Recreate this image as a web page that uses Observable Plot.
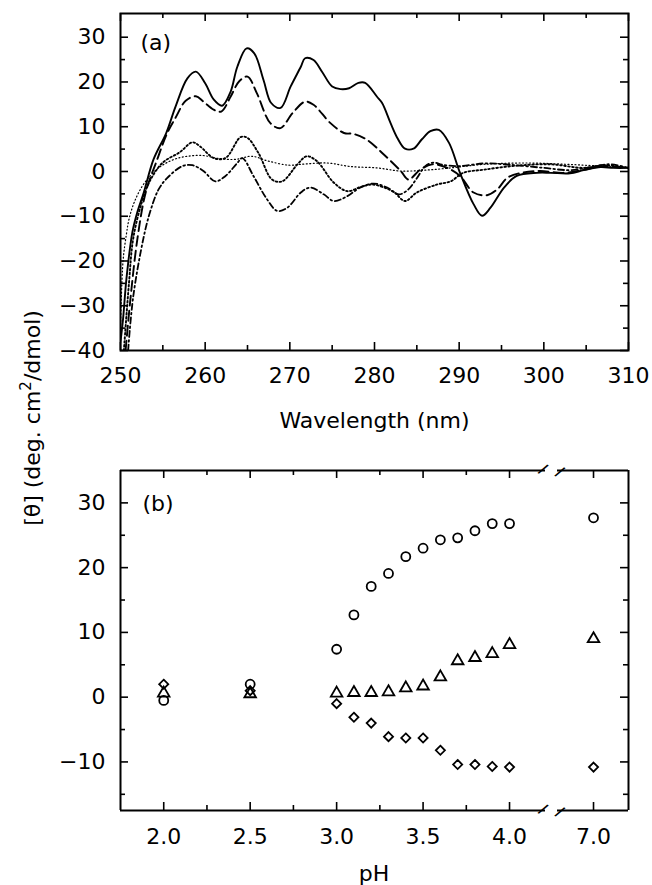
<!DOCTYPE html>
<html><head><meta charset="utf-8">
<script src="https://cdn.jsdelivr.net/npm/d3@7"></script>
<script src="https://cdn.jsdelivr.net/npm/@observablehq/plot@0.6"></script>
<style>
body{margin:0;background:#fff;}
#chart{position:relative;width:652px;height:885px;font-family:"DejaVu Sans",sans-serif;color:#000;}
#ytitle{position:absolute;left:33px;top:418px;transform:translate(-50%,-50%) rotate(-90deg);white-space:nowrap;font-size:22px;line-height:1;}
#ytitle sup{font-size:15px;vertical-align:0.6em;line-height:0;}
</style></head><body>
<div id="chart"><div id="ytitle">[θ] (deg. cm<sup>2</sup>/dmol)</div></div>
<script>
// ---------- Panel (a): CD spectra ----------
const solidWl = [250, 250.3, 250.7, 251.4, 252, 252.75, 253.9, 255.4, 256.5, 257.9, 258.9, 260, 261, 262, 263, 263.8, 264.9, 265.8, 266.9, 267.8, 268.9, 270.1, 271.3, 271.8, 272.8, 273.8, 275, 276, 277, 278.1, 278.9, 280.3, 280.9, 281.9, 282.7, 283.6, 284.6, 285.6, 286.6, 287.6, 288.8, 290.1, 291.7, 292.7, 293.7, 295.3, 296.8, 299.2, 300.8, 303.1, 304.7, 306.7, 308.2, 310];
const solidTheta = [-38, -33, -24, -13.6, -9, -4.7, 2.7, 8.6, 14.5, 20.8, 22.3, 19.7, 16.1, 14.7, 17.8, 23.4, 27.5, 26.4, 20.4, 15.3, 14.2, 19.0, 23.4, 25.3, 24.9, 22.3, 19.0, 18.4, 18.6, 19.8, 19.8, 16.7, 15.3, 10.8, 7.5, 5.1, 5.1, 7.2, 9.0, 9.3, 6.4, -0.3, -7.3, -9.9, -8.1, -3.6, -1.0, -0.3, -0.3, -0.4, 0.3, 1.0, 0.8, 0.8];

const dashedWl = [250.6, 251.2, 252, 253, 254.3, 255.5, 256.5, 257.7, 258.9, 259.8, 261, 261.9, 263, 264, 265, 266.1, 267.7, 268.9, 270.3, 271.8, 272.8, 274.8, 276.4, 277.5, 279.1, 281.1, 283.1, 284, 285.4, 286.8, 288.6, 290.1, 291.7, 293.3, 294.5, 295.7, 297.6, 299.6, 302.3, 304.7, 307.1, 310];
const dashedTheta = [-40, -28, -15, -4.5, 2.5, 8.5, 12, 15.8, 16.8, 15.6, 13.8, 13.4, 16.7, 20.1, 21.2, 17.5, 10.8, 9.7, 13.0, 15.6, 14.9, 10.8, 8.6, 8.4, 7.1, 3.8, 0.1, -1.8, 0.4, 1.6, 0.8, -1.0, -4.7, -5.3, -4.0, -1.4, -0.2, 0.1, -0.3, 0.4, 1.2, 0.8];

const fineWl = [250, 250.3, 250.7, 251, 251.6, 252.5, 253.5, 254.5, 255.5, 256.8, 257.9, 259.6, 261.6, 263.6, 265.5, 267.5, 269.9, 271.3, 274.4, 277.2, 280.3, 283.1, 286, 289, 292.9, 298, 302.7, 306.7, 310];
const fineTheta = [-35, -20, -14, -10.7, -7, -3.5, -1, 0.8, 2.0, 3.0, 3.4, 3.6, 2.9, 2.7, 3.4, 2.3, 1.4, 1.6, 1.9, 1.1, 0.8, 0.1, 0.3, 0.8, 1.6, 1.9, 1.6, 1.2, 0.8];

const dottedWl = [250.4, 251, 251.5, 252.5, 253.5, 255, 257, 258.5, 259.4, 261, 262.4, 264.2, 265, 266.3, 267.9, 269.1, 270.9, 272, 273.2, 275.2, 276.8, 278.3, 279.7, 281, 282.3, 283.6, 285, 287.4, 289, 290.5, 292.9, 296.8, 300.8, 304.7, 307.1, 310];
const dottedTheta = [-40, -25, -15, -7, -2, 2, 4.3, 6.5, 5.6, 3.0, 3.0, 7.7, 7.5, 4.1, -1.8, -2.2, 1.6, 3.4, 2.3, -2.5, -4.4, -3.5, -2.9, -3.5, -4.6, -6.6, -4.7, -2.9, -2.2, -0.3, 0.4, 1.3, 1.6, 0.8, 1.4, 0.8];

const dashDotWl = [250.9, 251.5, 252.7, 253.5, 254.5, 255.5, 257.3, 258.5, 259.8, 261.2, 262.4, 263.8, 264.4, 265.7, 267.3, 268.5, 269.7, 271.3, 272.4, 274, 275.2, 276.8, 278.3, 279.9, 281.5, 282.9, 284, 285, 286, 287, 288, 290, 293, 296, 300, 303, 305, 307, 308, 310];
const dashDotTheta = [-40, -28, -15, -9, -4, -1.5, 1.2, 1.4, 0.1, -2.2, -1.0, 1.9, 3.0, -1.0, -6.2, -8.8, -8.1, -4.7, -3.6, -5.1, -6.6, -5.5, -3.6, -2.7, -3.6, -5.1, -4, -1.5, 1.2, 2.0, 1.5, 1.2, 1.8, 1.5, 0.8, 0.3, 0.8, 1.5, 1.6, 0.8];

const wlMajorTicks = [250, 260, 270, 280, 290, 300, 310];
const wlMinorTicks = [255, 265, 275, 285, 295, 305];
const thetaMajorTicksA = [-40, -30, -20, -10, 0, 10, 20, 30];
const thetaMinorTicksA = [-35, -25, -15, -5, 5, 15, 25];

// ---------- Panel (b): pH dependence ----------
const pH = [2.0, 2.5, 3.0, 3.1, 3.2, 3.3, 3.4, 3.5, 3.6, 3.7, 3.8, 3.9, 4.0, 7.0];
const circleTheta = [-0.5, 2.0, 7.4, 12.7, 17.1, 19.1, 21.7, 23.0, 24.3, 24.6, 25.7, 26.8, 26.8, 27.7];
const triangleTheta = [0.6, 0.5, 0.6, 0.7, 0.7, 0.8, 1.4, 1.7, 3.1, 5.6, 6.1, 6.7, 8.1, 9.0];
const diamondTheta = [2.0, 1.0, -1.0, -3.1, -4.0, -6.1, -6.3, -6.3, -8.2, -10.4, -10.4, -10.7, -10.8, -10.8];

const pHMajorTicksLeft = [2.0, 2.5, 3.0, 3.5, 4.0];
const pHMinorTicksLeft = [2.25, 2.75, 3.25, 3.75];
const pHMajorTicksRight = [7.0];
const thetaMajorTicksB = [-10, 0, 10, 20, 30];
const thetaMinorTicksB = [-15, -5, 5, 15, 25];

// ---------- layout ----------
const FONT = "'DejaVu Sans', sans-serif";
const chart = document.getElementById("chart");
function place(svg, left, top) {
  svg.style.position = "absolute";
  svg.style.left = left + "px";
  svg.style.top = top + "px";
  svg.style.overflow = "visible";
  chart.appendChild(svg);
}
const baseStyle = {fontFamily: FONT, fontSize: "22px", background: "transparent", color: "black", overflow: "visible"};
const T = 8, t = 5, TW = 1.6;

// Panel (a)
const aH = 430, aMT = 13, aMB = 80, aML = 120, aMR = 24, aW = 652;
const aIH = aH - aMT - aMB, aIW = aW - aML - aMR;
const table = (xs, ys) => xs.map((x, i) => ({x, y: ys[i]}));
const lineSpecs = [
  {data: table(solidWl, solidTheta), dash: null, sw: 1.9},
  {data: table(dashedWl, dashedTheta), dash: "10,5", sw: 1.9},
  {data: table(fineWl, fineTheta), dash: "1,2.5", sw: 1.2},
  {data: table(dottedWl, dottedTheta), dash: "1.6,2.4", sw: 1.9},
  {data: table(dashDotWl, dashDotTheta), dash: "6,3,1.6,3", sw: 1.8}
];
const plotA = Plot.plot({
  width: aW, height: aH, marginTop: aMT, marginBottom: aMB, marginLeft: aML, marginRight: aMR,
  x: {domain: [250, 310]},
  y: {domain: [-40, 35.3]},
  style: baseStyle,
  marks: [
    ...lineSpecs.map(s => Plot.line(s.data, {x: "x", y: "y", stroke: "black", strokeWidth: s.sw, strokeDasharray: s.dash, curve: "catmull-rom", clip: true})),
    Plot.tickX(wlMajorTicks, {x: d => d, insetTop: aIH - T, strokeWidth: TW}),
    Plot.tickX(wlMinorTicks, {x: d => d, insetTop: aIH - t, strokeWidth: TW}),
    Plot.tickX(wlMajorTicks, {x: d => d, insetBottom: aIH - T, strokeWidth: TW}),
    Plot.tickX(wlMinorTicks, {x: d => d, insetBottom: aIH - t, strokeWidth: TW}),
    Plot.tickY(thetaMajorTicksA, {y: d => d, insetRight: aIW - T, strokeWidth: TW}),
    Plot.tickY(thetaMinorTicksA, {y: d => d, insetRight: aIW - t, strokeWidth: TW}),
    Plot.tickY(thetaMajorTicksA, {y: d => d, insetLeft: aIW - T, strokeWidth: TW}),
    Plot.tickY(thetaMinorTicksA, {y: d => d, insetLeft: aIW - t, strokeWidth: TW}),
    Plot.frame({strokeWidth: 2}),
    Plot.axisX(wlMajorTicks, {anchor: "bottom", tickSize: 0, tickPadding: 17, label: null}),
    Plot.axisY(thetaMajorTicksA, {anchor: "left", tickSize: 0, tickPadding: 15, label: null}),
    Plot.text(["(a)"], {text: d => d, frameAnchor: "top-left", dx: 20, dy: 29, textAnchor: "start", lineAnchor: "middle"}),
    Plot.text(["Wavelength (nm)"], {text: d => d, frameAnchor: "bottom", dy: 70, lineAnchor: "middle"})
  ]
});
place(plotA, 0, 0);

// Panel (b)
const bTop = 430, bH = 455, bMT = 40, bMB = 75;
const bIH = bH - bMT - bMB;
const yDomB = [-17.5, 35];
const pts = pH.map((p, i) => ({p, c: circleTheta[i], tr: triangleTheta[i], d: diamondTheta[i]}));
const dotMarks = (data) => [
  Plot.dot(data, {x: "p", y: "c", symbol: "circle", r: 4.5, stroke: "black", strokeWidth: 1.8, fill: "none"}),
  Plot.dot(data, {x: "p", y: "tr", symbol: "triangle", r: 4.3, stroke: "black", strokeWidth: 1.8, fill: "none"}),
  Plot.dot(data, {x: "p", y: "d", symbol: "diamond2", r: 4.1, stroke: "black", strokeWidth: 1.8, fill: "none"})
];
const slash = (anchor) => Plot.text(["/"], {text: d => d, frameAnchor: anchor, rotate: 32, fontSize: 15, fontWeight: "bold", lineAnchor: "middle"});

// left part
const bLW = 560, bLML = 120, bLMR = 15;
const bLIW = bLW - bLML - bLMR;
const xDomL = [1.75, 4.208];
const plotBL = Plot.plot({
  width: bLW, height: bH, marginTop: bMT, marginBottom: bMB, marginLeft: bLML, marginRight: bLMR,
  x: {domain: xDomL}, y: {domain: yDomB},
  style: baseStyle,
  marks: [
    ...dotMarks(pts.filter(d => d.p <= xDomL[1])),
    Plot.tickX(pHMajorTicksLeft, {x: d => d, insetTop: bIH - T, strokeWidth: TW}),
    Plot.tickX(pHMinorTicksLeft, {x: d => d, insetTop: bIH - t, strokeWidth: TW}),
    Plot.tickX(pHMajorTicksLeft, {x: d => d, insetBottom: bIH - T, strokeWidth: TW}),
    Plot.tickX(pHMinorTicksLeft, {x: d => d, insetBottom: bIH - t, strokeWidth: TW}),
    Plot.tickY(thetaMajorTicksB, {y: d => d, insetRight: bLIW - T, strokeWidth: TW}),
    Plot.tickY(thetaMinorTicksB, {y: d => d, insetRight: bLIW - t, strokeWidth: TW}),
    Plot.ruleY(yDomB, {strokeWidth: 2}),
    Plot.ruleX([xDomL[0]], {strokeWidth: 2}),
    slash("top-right"), slash("bottom-right"),
    Plot.axisX(pHMajorTicksLeft, {anchor: "bottom", tickSize: 0, tickPadding: 18, tickFormat: d3.format(".1f"), label: null}),
    Plot.axisY(thetaMajorTicksB, {anchor: "left", tickSize: 0, tickPadding: 15, label: null}),
    Plot.text(["(b)"], {text: d => d, frameAnchor: "top-left", dx: 22, dy: 33, textAnchor: "start", lineAnchor: "middle"}),
    Plot.text(["pH"], {text: d => d, frameAnchor: "bottom", dx: 41, dy: 63, lineAnchor: "middle"})
  ]
});
place(plotBL, 0, bTop);

// right part (after the axis break)
const bRW = 112, bRML = 17, bRMR = 24;
const bRIW = bRW - bRML - bRMR;
const xDomR = [6.792, 7.202];
const plotBR = Plot.plot({
  width: bRW, height: bH, marginTop: bMT, marginBottom: bMB, marginLeft: bRML, marginRight: bRMR,
  x: {domain: xDomR}, y: {domain: yDomB, axis: null},
  style: baseStyle,
  marks: [
    ...dotMarks(pts.filter(d => d.p >= xDomR[0])),
    Plot.tickX(pHMajorTicksRight, {x: d => d, insetTop: bIH - T, strokeWidth: TW}),
    Plot.tickX(pHMajorTicksRight, {x: d => d, insetBottom: bIH - T, strokeWidth: TW}),
    Plot.tickY(thetaMajorTicksB, {y: d => d, insetLeft: bRIW - T, strokeWidth: TW}),
    Plot.tickY(thetaMinorTicksB, {y: d => d, insetLeft: bRIW - t, strokeWidth: TW}),
    Plot.ruleY(yDomB, {strokeWidth: 2}),
    Plot.ruleX([xDomR[1]], {strokeWidth: 2}),
    slash("top-left"), slash("bottom-left"),
    Plot.axisX(pHMajorTicksRight, {anchor: "bottom", tickSize: 0, tickPadding: 18, tickFormat: d3.format(".1f"), label: null})
  ]
});
place(plotBR, 540, bTop);
</script>
</body></html>
